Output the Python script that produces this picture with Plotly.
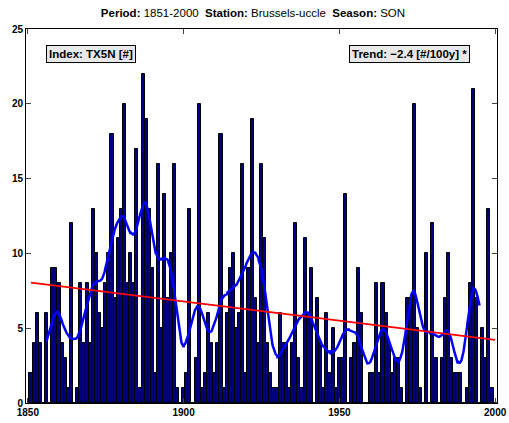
import numpy as np
import plotly.graph_objects as go

years = list(range(1851, 2001))
tx5n = [
    2, 4, 6, 4, 0, 6, 0, 9, 9, 8,          # 1851-1860
    4, 3, 1, 12, 0, 1, 8, 4, 8, 4,         # 1861-1870
    13, 10, 6, 5, 8, 10, 18, 7, 11, 13,    # 1871-1880
    20, 8, 10, 8, 17, 1, 22, 19, 13, 9,    # 1881-1890
    2, 16, 5, 14, 7, 10, 16, 1, 0, 1,      # 1891-1900
    2, 13, 0, 3, 20, 1, 2, 6, 4, 2,        # 1901-1910
    4, 18, 1, 6, 9, 10, 5, 6, 16, 2,       # 1911-1920
    9, 19, 7, 4, 16, 11, 4, 2, 1, 1,       # 1921-1930
    6, 4, 4, 1, 4, 12, 3, 1, 11, 6,        # 1931-1940
    9, 0, 7, 4, 1, 6, 2, 5, 1, 3,          # 1941-1950
    3, 14, 0, 3, 4, 9, 6, 0, 0, 2,         # 1951-1960
    2, 8, 2, 8, 6, 4, 2, 3, 3, 1,          # 1961-1970
    0, 7, 7, 20, 5, 1, 0, 10, 0, 12,       # 1971-1980
    3, 0, 3, 7, 10, 3, 2, 2, 2, 0,         # 1981-1990
    1, 8, 21, 7, 0, 5, 3, 13, 1, 0,        # 1991-2000
]
x_ticks = [1850, 1900, 1950, 2000]
y_ticks = [0, 5, 10, 15, 20, 25]

yr = np.array(years, dtype=float)
val = np.array(tx5n, dtype=float)

# Gaussian-weighted smoothing of the series (half-width 5 years)
sigma, half = 2.0, 5
xs = np.arange(yr[0] + half, yr[-1] - half + 0.001, 0.1)
smooth = []
for x0 in xs:
    d = yr - x0
    m = np.abs(d) <= half
    w = np.exp(-0.5 * (d[m] / sigma) ** 2)
    smooth.append(np.sum(w * val[m]) / np.sum(w))

# linear trend
coef = np.polyfit(yr, val, 1)
trend = np.polyval(coef, yr)

W, H = 509, 423

fig = go.Figure()
fig.add_trace(go.Bar(x=years, y=tx5n, width=1.0,
                     marker=dict(color="#00007a", line=dict(color="black", width=1)),
                     showlegend=False, hoverinfo="skip"))
fig.add_trace(go.Scatter(x=xs, y=smooth, mode="lines",
                         line=dict(color="#0000ff", width=2.5), showlegend=False,
                         hoverinfo="skip"))
fig.add_trace(go.Scatter(x=years, y=trend, mode="lines",
                         line=dict(color="#ff0000", width=2), showlegend=False,
                         hoverinfo="skip"))

fig.update_layout(
    width=W, height=H,
    margin=dict(l=26, r=12, t=29, b=20, autoexpand=False),
    paper_bgcolor="white", plot_bgcolor="white",
    bargap=0,
    font=dict(family="Liberation Sans, Arial, sans-serif", color="black"),
    title=dict(text="<b>Period:</b> 1851-2000&nbsp; <b>Station:</b> Brussels-uccle&nbsp; <b>Season:</b> SON",
               x=253 / W, xref="container", xanchor="center",
               y=1 - 13 / H, yref="container", yanchor="middle",
               font=dict(size=11.5)),
    xaxis=dict(range=[1849.4, 2000.6], tickvals=x_ticks, ticks="inside", ticklen=5,
               showline=True, linecolor="black", linewidth=1, mirror="allticks",
               showgrid=False, zeroline=False, automargin=False,
               tickfont=dict(size=10, weight="bold")),
    yaxis=dict(range=[0, 25], tickvals=y_ticks, ticks="inside", ticklen=5,
               showline=True, linecolor="black", linewidth=1, mirror="allticks",
               showgrid=False, zeroline=False, automargin=False,
               tickfont=dict(size=10, weight="bold")),
    annotations=[
        dict(text="<b>Index: TX5N [#]</b>", xref="paper", yref="paper",
             x=(46 - 26) / 471, y=(403 - 53.5) / 374, xanchor="left", yanchor="middle",
             showarrow=False, bgcolor="#e8e8e8", bordercolor="black", borderwidth=1,
             borderpad=2, font=dict(size=11.5)),
        dict(text="<b>Trend: \u22122.4 [#/100y] *</b>", xref="paper", yref="paper",
             x=(470 - 26) / 471, y=(403 - 53.5) / 374, xanchor="right", yanchor="middle",
             showarrow=False, bgcolor="#e8e8e8", bordercolor="black", borderwidth=1,
             borderpad=2, font=dict(size=11.5)),
    ],
)

fig.write_html("out.html", config={"displayModeBar": False},
               post_script="document.body.style.margin = '0px';")
